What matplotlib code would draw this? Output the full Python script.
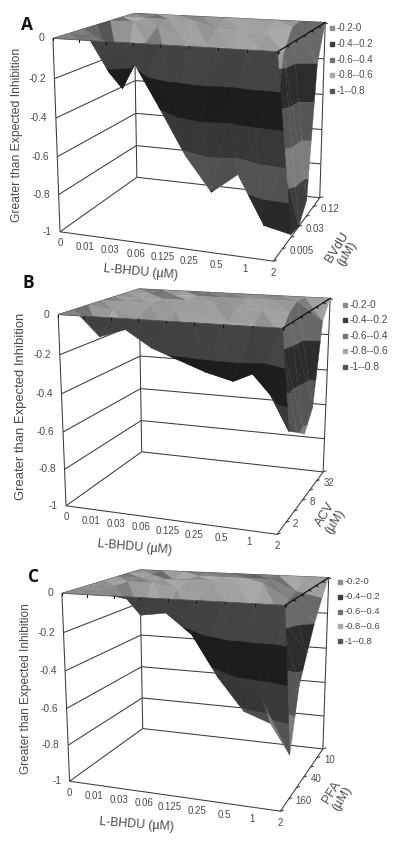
import numpy as np
import matplotlib
matplotlib.use('Agg')
import matplotlib.pyplot as plt
from matplotlib.collections import PolyCollection

plt.rcParams['font.family'] = ['Liberation Sans', 'DejaVu Sans']

lbhdu_doses = ['0', '0.01', '0.03', '0.06', '0.125', '0.25', '0.5', '1', '2']
band_names = ['-0.2-0', '-0.4--0.2', '-0.6--0.4', '-0.8--0.6', '-1--0.8']
band_edges = [0, -0.2, -0.4, -0.6, -0.8, -1]
band_grays = [140, 60, 115, 168, 85]
z_ticks = [0, -0.2, -0.4, -0.6, -0.8, -1]

# rows run front to back, columns follow lbhdu_doses; values above 0 get clipped flat
bvdu_labels = ['0.005', '0.03', '0.12']
bvdu_z = [
    [0.08, 0.06, 0.04, 0.02, 0.00, 0.02, 0.00, 0.02, 0.00],
    [0.05, 0.00, -0.06, -0.18, -0.30, -0.40, -0.35, -0.45, -0.50],
    [0.02, -0.22, -0.16, -0.39, -0.63, -0.81, -0.70, -0.955, -0.985],
    [0.05, -0.34, -0.08, -0.25, -0.35, -0.40, -0.35, -0.50, -1.00],
    [0.10, 0.02, -0.02, -0.08, -0.10, -0.12, -0.10, -0.12, -0.91],
    [0.05, 0.12, 0.05, 0.02, -0.04, -0.05, -0.05, -0.01, -0.20],
    [0.02, 0.06, 0.10, 0.03, 0.00, 0.02, 0.01, 0.01, 0.00],
]
acv_labels = ['2', '8', '32']
acv_z = [
    [0.06, 0.05, 0.03, 0.02, 0.01, 0.02, 0.03, 0.01, 0.00],
    [0.03, -0.13, -0.085, -0.17, -0.22, -0.27, -0.305, -0.24, -0.53],
    [0.04, -0.02, -0.05, -0.12, -0.22, -0.25, -0.25, -0.40, -0.58],
    [0.06, 0.04, 0.02, -0.03, -0.06, -0.08, -0.08, -0.14, -0.635],
    [0.03, 0.06, 0.08, 0.05, 0.02, -0.03, -0.03, -0.04, -0.535],
    [0.01, 0.08, 0.03, 0.10, 0.06, 0.02, 0.02, 0.00, -0.10],
    [0.00, 0.02, 0.04, 0.03, 0.02, 0.01, 0.00, 0.01, 0.00],
]
pfa_labels = ['160', '40', '10']
pfa_z = [
    [0.03, 0.02, 0.02, 0.01, 0.02, 0.01, 0.02, 0.01, 0.00],
    [0.02, 0.00, -0.04, -0.06, -0.10, -0.22, -0.40, -0.50, -0.77],
    [0.03, 0.00, -0.15, -0.13, -0.235, -0.45, -0.62, -0.67, -0.46],
    [0.04, 0.06, 0.00, -0.03, -0.06, -0.10, -0.12, -0.15, -0.32],
    [0.07, 0.04, 0.03, 0.05, 0.02, 0.00, 0.03, -0.08, -0.19],
    [0.02, 0.08, -0.03, 0.05, 0.10, 0.12, 0.04, -0.06, -0.09],
    [0.00, 0.03, 0.02, 0.00, 0.03, 0.02, 0.00, 0.03, 0.00],
]

LIGHT = np.array([-0.45, -0.55, 0.7])
LIGHT = LIGHT / np.linalg.norm(LIGHT)


def fit_camera(px):
    # px holds screen corners: front-top-left, front-bottom-left, front-bottom-right,
    # front-top-right, back-top-left, back-bottom-left, back-bottom-right, back-top-right
    box = [(0, 0, 0), (0, 0, -1), (8, 0, -1), (8, 0, 0),
           (0, 1, 0), (0, 1, -1), (8, 1, -1), (8, 1, 0)]
    rows, rhs = [], []
    for (x, y, z), (u, v) in zip(box, px):
        rows.append([x, y, z, 1, 0, 0, 0, 0, -u * x, -u * y, -u * z])
        rows.append([0, 0, 0, 0, x, y, z, 1, -v * x, -v * y, -v * z])
        rhs += [u, v]
    p = np.linalg.lstsq(np.array(rows, float), np.array(rhs, float), rcond=None)[0]
    return np.append(p, 1).reshape(3, 4)


def project(cam, x, y, z):
    h = cam @ np.array([x, y, z, 1.0])
    return h[0] / h[2], h[1] / h[2], h[2]


def clip_band(tri, lo, hi):
    out = tri
    for keep, limit in ((lambda p: p[2] <= hi, hi), (lambda p: p[2] >= lo, lo)):
        poly, out = out, []
        for a, b in zip(poly, poly[1:] + poly[:1]):
            if keep(a):
                out.append(a)
            if keep(a) != keep(b):
                t = (limit - a[2]) / (b[2] - a[2])
                out.append(tuple(a[k] + t * (b[k] - a[k]) for k in range(3)))
        if not out:
            return []
    return out


def shade(cam, tri_raw):
    a, b, c = [np.array(p, float) * [0.25, 1, 1] for p in tri_raw]
    n = np.cross(b - a, c - a)
    n = n / np.linalg.norm(n)
    if n[2] < 0:
        n = -n
        tri_raw = [tri_raw[0], tri_raw[2], tri_raw[1]]
    scr = [project(cam, p[0], p[1], min(p[2], 0)) for p in tri_raw]
    area = ((scr[1][0] - scr[0][0]) * (scr[2][1] - scr[0][1])
            - (scr[2][0] - scr[0][0]) * (scr[1][1] - scr[0][1]))
    if area <= 0:
        return 0.55 + 0.7 * max(n @ LIGHT, 0)
    return 0.46 + 0.08 * max(-n @ LIGHT, 0)


def draw_surface(ax, cam, z_grid, wall_row):
    z = np.array(z_grid)
    ys = np.linspace(0, 1, z.shape[0])
    tris = []
    for j in range(z.shape[0] - 1):
        for i in range(z.shape[1] - 1):
            p00 = (i, ys[j], z[j, i])
            p10 = (i + 1, ys[j], z[j, i + 1])
            p01 = (i, ys[j + 1], z[j + 1, i])
            p11 = (i + 1, ys[j + 1], z[j + 1, i + 1])
            # the last column behind wall_row reads as one pale wall
            wall = i == 7 and j >= wall_row
            tris.append(([p00, p10, p01], wall))
            tris.append(([p10, p11, p01], wall))
    tris.sort(key=lambda t: -np.mean([project(cam, p[0], p[1], min(p[2], 0))[2] for p in t[0]]))
    polys, colors = [], []
    for tri, wall in tris:
        f = 0.74 if wall and min(p[2] for p in tri) < -0.1 else shade(cam, tri)
        flat = [(p[0], p[1], min(p[2], 0)) for p in tri]
        for k, gray in enumerate(band_grays):
            part = clip_band(flat, band_edges[k + 1], band_edges[k] + (1e-6 if k == 0 else 0))
            if len(part) < 3:
                continue
            polys.append([project(cam, *p)[:2] for p in part])
            v = min(gray * f, 235) / 255
            colors.append((v, v, v))
    ax.add_collection(PolyCollection(polys, facecolors=colors, edgecolors=colors,
                                     linewidths=0.25, zorder=3))


def draw_panel(ax, spec):
    cam = fit_camera(spec['corners'])
    ink = '#3a3a3a'
    text_ink = '#4a4a4a'

    def line(p, q, zorder=2, lw=0.75, color=ink):
        a, b = project(cam, *p), project(cam, *q)
        ax.plot([a[0], b[0]], [a[1], b[1]], color=color, lw=lw, zorder=zorder,
                solid_capstyle='butt')

    for z in z_ticks:
        line((0, 0, z), (0, 1, z))
        line((0, 1, z), (8, 1, z))
    line((0, 0, 0), (0, 0, -1))
    line((0, 1, 0), (0, 1, -1))
    line((8, 1, 0), (8, 1, -1))
    line((0, 0, -1), (8, 0, -1))
    line((8, 0, -1), (8, 1, -1))

    draw_surface(ax, cam, spec['z'], spec['wall_row'])

    line((0, 0, 0), (8, 0, 0), zorder=4, lw=0.6, color='#555555')
    line((8, 0, 0), (8, 1, 0), zorder=4, lw=0.9, color='#111111')
    for i in range(9):
        a = project(cam, i, 0, 0)
        ax.plot([a[0], a[0]], [a[1], a[1] + 2], color='#111111', lw=0.7, zorder=4)
    for y in np.linspace(0, 1, 7):
        a = project(cam, 8, y, 0)
        ax.plot([a[0], a[0] + 2], [a[1], a[1] + 1], color='#111111', lw=0.7, zorder=4)
        b = project(cam, 8, y, -1)
        ax.plot([b[0], b[0] + 3], [b[1], b[1] - 1], color=ink, lw=0.7, zorder=2)

    for z in z_ticks:
        a = project(cam, 0, 0, z)
        ax.text(a[0] - 8.5, a[1], f'{z:g}', ha='right', va='center', fontsize=7.4, color=text_ink)
    for i, lab in enumerate(lbhdu_doses):
        a = project(cam, i, 0, -1)
        ax.text(a[0], a[1] + 11.5, lab, ha='center', va='center', fontsize=7.0, color=text_ink)
    for row, lab in zip((1, 3, 5), spec['y_labels']):
        a = project(cam, 8, row / 6, -1)
        ax.text(a[0] + 7, a[1] + 2, lab, ha='left', va='center', fontsize=7.0, color=text_ink)

    ax.text(*spec['letter'], spec['name'], fontsize=12.5, fontweight='bold', ha='center',
            va='center', family=['Open Sans', 'DejaVu Sans'], color='#111111')
    ax.text(*spec['zlabel'], 'Greater than Expected Inhibition', rotation=90, ha='center',
            va='center', fontsize=spec['zsize'], color=text_ink)
    ax.text(*spec['xlabel'], 'L-BHDU (µM)', rotation=spec['xrot'], ha='center', va='center',
            fontsize=8.8, color=text_ink, rotation_mode='anchor')
    ax.text(*spec['ylabel'], spec['ytitle'] + '\n(µM)', rotation=58, ha='center', va='center',
            fontsize=9.2, color=text_ink, linespacing=1.0, rotation_mode='anchor',
            multialignment='center')

    lx, ly = spec['legend']
    for k, lab in enumerate(band_names):
        y = ly + k * spec['legend_step']
        v = band_grays[k] / 255
        ax.plot([lx], [y], marker='s', ms=3.2, color=(v, v, v), ls='none')
        ax.text(lx + 4.5, y, lab, ha='left', va='center', fontsize=spec['legend_size'],
                color=text_ink)


panels = [
    dict(name='A', z=bvdu_z, y_labels=bvdu_labels, ytitle='BVdU', wall_row=3,
         corners=[(53, 39), (60, 232), (273, 261), (278, 51),
                  (134, 13), (137, 177), (320, 198), (325, 23)],
         letter=(27, 25), zlabel=(17.5, 135), zsize=8.7, xlabel=(141, 272), xrot=-5,
         ylabel=(342, 250), legend=(332, 28), legend_step=15.8, legend_size=7.0),
    dict(name='B', z=acv_z, y_labels=acv_labels, ytitle='ACV', wall_row=2,
         corners=[(59, 314), (66, 506), (277, 535), (282, 328),
                  (138, 289), (142, 452), (323, 471), (331, 299)],
         letter=(28, 283), zlabel=(21, 406), zsize=9.4, xlabel=(135, 547), xrot=-5,
         ylabel=(330, 518), legend=(345, 305), legend_step=15.4, legend_size=7.4),
    dict(name='C', z=pfa_z, y_labels=pfa_labels, ytitle='PFA', wall_row=1,
         corners=[(63, 593), (69, 782), (278, 811), (287, 605),
                  (138, 570), (144, 728), (324, 749), (328, 578)],
         letter=(34, 577), zlabel=(26, 689), zsize=8.6, xlabel=(137, 825), xrot=-4,
         ylabel=(337, 795), legend=(340, 582), legend_step=14.8, legend_size=6.8),
]

fig = plt.figure(figsize=(4.0, 8.47), dpi=100)
ax = fig.add_axes([0, 0, 1, 1])
ax.set_xlim(0, 400)
ax.set_ylim(847, 0)
ax.axis('off')

for spec in panels:
    draw_panel(ax, spec)

fig.savefig('out.png', dpi=100)
